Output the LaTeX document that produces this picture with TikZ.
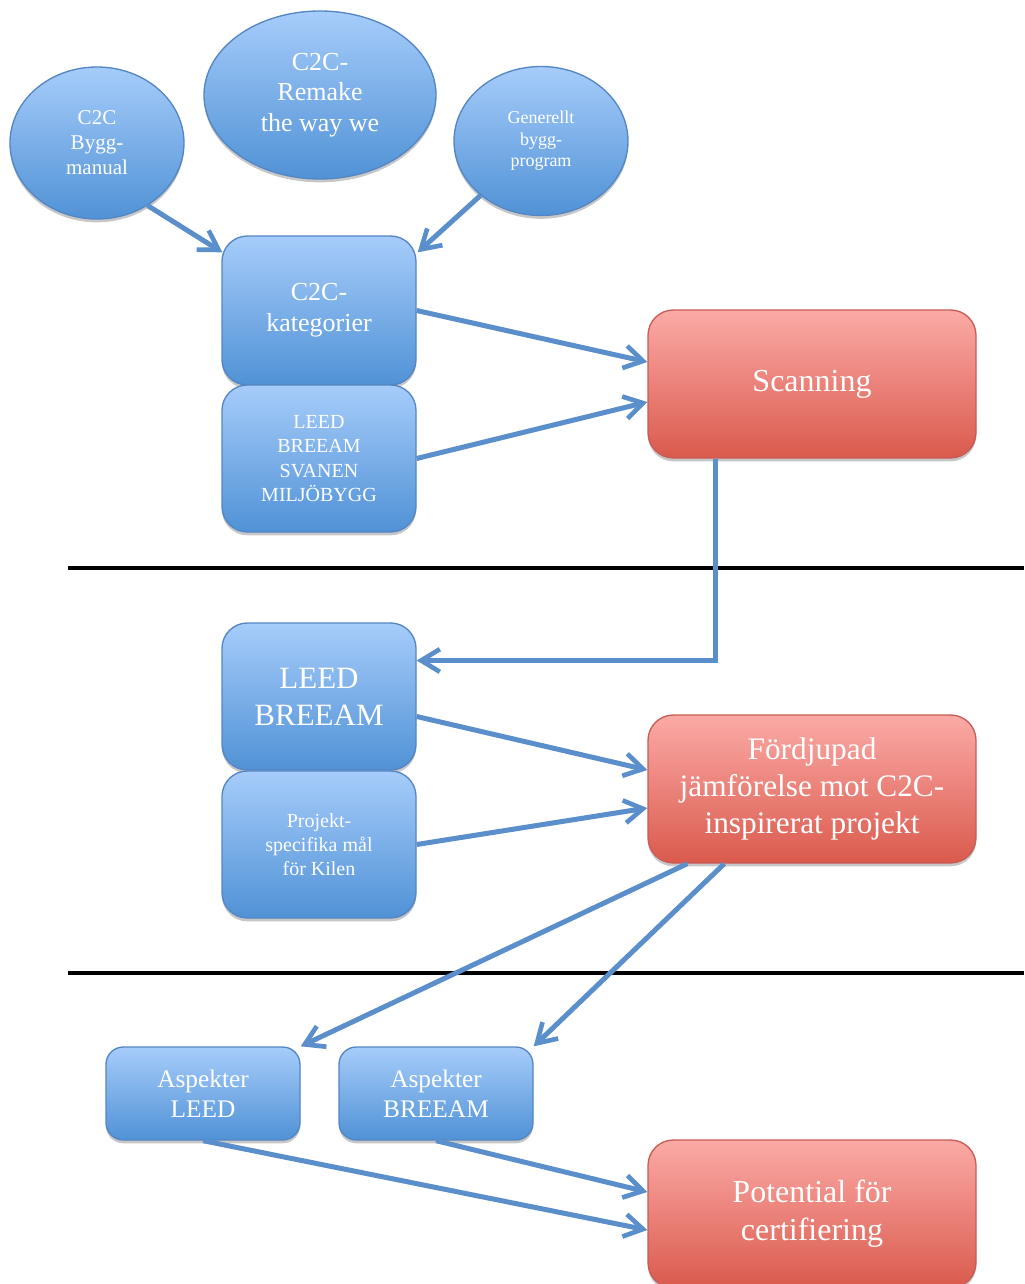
\documentclass[tikz,border=0pt]{standalone}
\usepackage{fontspec}
\setmainfont{Liberation Serif}
\usetikzlibrary{shapes.geometric,arrows.meta,calc,shadows}
\definecolor{btop}{RGB}{166,204,250}
\definecolor{bbot}{RGB}{80,146,214}
\definecolor{bedge}{RGB}{84,134,196}
\definecolor{rtop}{RGB}{251,170,166}
\definecolor{rbot}{RGB}{218,90,77}
\definecolor{redge}{RGB}{200,92,86}
\definecolor{conncol}{RGB}{90,143,203}
\tikzset{
  shad/.style={drop shadow={shadow xshift=0pt,shadow yshift=-2.5pt,opacity=0.22,fill=black}},
  bluebox/.style={shad,draw=bedge,line width=1pt,top color=btop,bottom color=bbot,text=white,align=center,inner sep=0pt,rounded corners=19pt,minimum width=145.5pt},
  blueell/.style={shad,ellipse,draw=bedge,line width=1pt,top color=btop,bottom color=bbot,text=white,align=center,inner sep=0pt},
  redbox/.style={shad,draw=redge,line width=1pt,top color=rtop,bottom color=rbot,text=white,align=center,inner sep=0pt,rounded corners=19pt,minimum width=246pt,minimum height=111pt},
  lower/.style={execute at begin node={\vspace*{#1}}},
  conn/.style={draw=conncol,line width=3.75pt,-{Straight Barb[length=14pt,width=17pt,line width=3.5pt]}},
  sepline/.style={draw=black,line width=3pt}
}
\begin{document}
\begin{tikzpicture}[x=0.75pt,y=-0.75pt]
\useasboundingbox (0,0) rectangle (1024,1284);
\clip (0,0) rectangle (1024,1284);
% ellipses
\node[blueell,minimum width=130.5pt,minimum height=114pt,font=\fontsize{15.75}{18.75}\selectfont] (bygg) at (97,143) {C2C\\Bygg-\\manual};
\node[blueell,minimum width=174pt,minimum height=126pt,font=\fontsize{19.5}{23}\selectfont] (remake) at (320,95) {C2C-\\Remake\\the way we};
\node[blueell,lower=3pt,minimum width=130.5pt,minimum height=111.75pt,font=\fontsize{13.5}{16.1}\selectfont] (gen) at (541,141) {Generellt\\bygg-\\program};
% upper boxes
\node[bluebox,lower=2pt,minimum height=111.75pt,font=\fontsize{19.5}{23.25}\selectfont] (kat) at (319,310.5) {C2C-\\kategorier};
\node[bluebox,minimum height=110.25pt,font=\fontsize{15}{18.4}\selectfont] (leedall) at (319,458.5) {LEED\\BREEAM\\SVANEN\\MILJÖBYGG};
\node[redbox,lower=5pt,font=\fontsize{24}{28.5}\selectfont] (scan) at (812,384) {Scanning};
% middle boxes
\node[bluebox,minimum height=110.25pt,font=\fontsize{23.25}{27.75}\selectfont] (lb) at (319,696.5) {LEED\\BREEAM};
\node[bluebox,minimum height=110.25pt,font=\fontsize{15}{18}\selectfont] (proj) at (319,844.5) {Projekt-\\specifika mål\\för Kilen};
\node[redbox,lower=5pt,font=\fontsize{23.5}{28}\selectfont] (ford) at (812,789) {Fördjupad\\jämförelse mot C2C-\\inspirerat projekt};
% lower boxes
\node[bluebox,rounded corners=13pt,minimum height=69.75pt,font=\fontsize{19}{22.5}\selectfont] (aspL) at (203,1093.5) {Aspekter\\LEED};
\node[bluebox,rounded corners=13pt,minimum height=69.75pt,font=\fontsize{19}{22.5}\selectfont] (aspB) at (436,1093.5) {Aspekter\\BREEAM};
\node[redbox,lower=4pt,font=\fontsize{24}{28.5}\selectfont] (pot) at (812,1214) {Potential för\\certifiering};
% separators
\coordinate (s1a) at (68,568); \coordinate (s1b) at (1024,568);
\coordinate (s2a) at (68,973); \coordinate (s2b) at (1024,973);
\draw[sepline] (s1a) -- (s1b);
\draw[sepline] (s2a) -- (s2b);
% connectors
\draw[conn] (bygg.-51) -- ($(kat.north west)+(1,17)$);
\draw[conn] (gen.222) -- ($(kat.north east)+(1,17)$);
\draw[conn] (kat.east) -- ($(scan.west)+(0,-22)$);
\draw[conn] (leedall.east) -- ($(scan.west)+(0,18)$);
\draw[conn] ($(scan.south west)+(68,0)$) |- ($(lb.east)+(0,-36)$);
\draw[conn] ($(lb.east)+(0,20)$) -- ($(ford.west)+(0,-19)$);
\draw[conn] (proj.east) -- ($(ford.west)+(0,19)$);
\draw[conn] ($(ford.south west)+(40,0)$) -- (aspL.north east);
\draw[conn] ($(ford.south west)+(77,0)$) -- (aspB.north east);
\draw[conn] (aspL.south) -- ($(pot.west)+(0,16)$);
\draw[conn] (aspB.south) -- ($(pot.west)+(0,-22)$);
\end{tikzpicture}
\end{document}
